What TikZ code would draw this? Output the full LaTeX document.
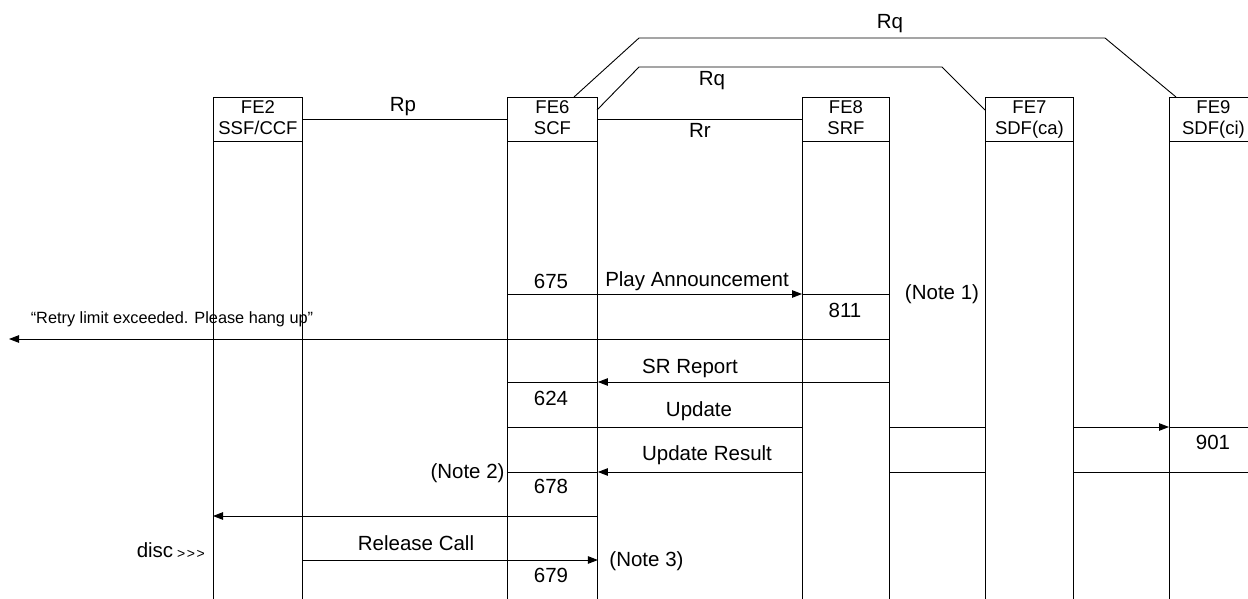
\documentclass[tikz,border=0pt]{standalone}
\usepackage{fontspec}
\setmainfont{Liberation Sans}
\usetikzlibrary{arrows.meta}
\newcommand\lblfont{\fontsize{20.5}{24}\selectfont}
\newcommand\hdfont{\fontsize{18.5}{21}\selectfont}
\newcommand\smallerfont{\fontsize{16.3}{19}\selectfont}
\begin{document}
\begin{tikzpicture}[x=1pt,y=-1pt,line width=0.9pt,
  every node/.style={inner sep=0pt},
  lbl/.style={font=\lblfont,anchor=base},
  hd/.style={font=\hdfont,anchor=base},
  febox/.style={draw,minimum height=44pt,anchor=north west},
  msg/.style={-{Triangle[length=10pt,width=7.5pt]}}]
\useasboundingbox (0,0) rectangle (1248,599);
\clip (0,0) rectangle (1248,599);
% header boxes
\node[febox,minimum width=89pt] (fe2) at (213,97) {};
\node[febox,minimum width=90pt] (fe6) at (507,97) {};
\node[febox,minimum width=87pt] (fe8) at (802,97) {};
\node[febox,minimum width=88pt] (fe7) at (985,97) {};
\node[febox,minimum width=88pt] (fe9) at (1169,97) {};
\coordinate (hb1) at (0,113.5);
\coordinate (hb2) at (0,135);
\node[hd] (fe2a) at (fe2.north |- hb1) {FE2};
\node[hd] (fe2b) at (fe2.north |- hb2) {SSF/CCF};
\node[hd] (fe6a) at (fe6.north |- hb1) {FE6};
\node[hd] (fe6b) at (fe6.north |- hb2) {SCF};
\node[hd] (fe8a) at (fe8.north |- hb1) {FE8};
\node[hd] (fe8b) at (fe8.north |- hb2) {SRF};
\node[hd] (fe7a) at (fe7.north |- hb1) {FE7};
\node[hd] (fe7b) at (fe7.north |- hb2) {SDF(ca)};
\node[hd] (fe9a) at (fe9.north |- hb1) {FE9};
\node[hd] (fe9b) at (fe9.north |- hb2) {SDF(ci)};
% lifelines
\foreach \n in {fe2,fe6,fe8,fe7,fe9}{
  \draw (\n.south west) -- ++(0,470);
  \draw (\n.south east) -- ++(0,470);
}
% interfaces
\draw (fe2.east) -- (fe6.west);
\node[lbl] (rp) at (403,112) {Rp};
\draw (fe6.east) -- (fe8.west);
\node[lbl] (rr) at (700,138) {Rr};
\coordinate (rqi1) at (597,110);
\coordinate (rqi2) at (639,67);
\coordinate (rqi3) at (942,67);
\coordinate (rqi4) at (985,110);
\draw (rqi1) -- (rqi2) -- (rqi3) -- (rqi4);
\node[lbl] (rqin) at (712,86) {Rq};
\coordinate (rqo1) at (574,97);
\coordinate (rqo2) at (639,38);
\coordinate (rqo3) at (1105,38);
\coordinate (rqo4) at (1176,97);
\draw (rqo1) -- (rqo2) -- (rqo3) -- (rqo4);
\node[lbl] (rqout) at (890,29) {Rq};
% message rows
\coordinate (t1) at (0,294);
\coordinate (t2) at (0,339);
\coordinate (t3) at (0,382);
\coordinate (t4) at (0,427);
\coordinate (t5) at (0,472);
\coordinate (t6) at (0,516);
\coordinate (t7) at (0,560);
\coordinate (farleft) at (9,339);
\coordinate (edge4) at (1260,427);
\coordinate (edge5) at (1260,472);
% 1 Play Announcement
\draw[msg] (fe6.west|-t1) -- (fe8.west|-t1);
\draw (fe8.west|-t1) -- (fe8.east|-t1);
\node[lbl] (n675) at (551,288) {675};
\node[lbl] (pa) at (697,286) {Play Announcement};
\node[lbl] (n811) at (845,317) {811};
\node[lbl] (note1) at (942,299) {(Note 1)};
% 2 announcement to user
\draw[msg] (fe8.east|-t2) -- (farleft);
\node[font=\smallerfont,anchor=base] (retry) at (172,323) {“Retry limit exceeded. Please hang up”};
% 3 SR Report
\draw[msg] (fe8.east|-t3) -- (fe6.east|-t3);
\draw (fe6.east|-t3) -- (fe6.west|-t3);
\node[lbl] (srr) at (690,373) {SR Report};
\node[lbl] (n624) at (551,405) {624};
% 4 Update
\draw (fe6.west|-t4) -- (fe8.west|-t4);
\draw (fe8.east|-t4) -- (fe7.west|-t4);
\draw[msg] (fe7.east|-t4) -- (fe9.west|-t4);
\draw (fe9.west|-t4) -- (edge4);
\node[lbl] (upd) at (699,416) {Update};
\node[lbl] (n901) at (1213,449) {901};
% 5 Update Result
\draw (edge5) -- (fe7.east|-t5);
\draw (fe7.west|-t5) -- (fe8.east|-t5);
\draw[msg] (fe8.west|-t5) -- (fe6.east|-t5);
\draw (fe6.east|-t5) -- (fe6.west|-t5);
\node[lbl] (updr) at (707,460) {Update Result};
\node[lbl,anchor=base east] (note2) at (505,478) {(Note 2)};
\node[lbl] (n678) at (551,493) {678};
% 6
\draw[msg] (fe6.east|-t6) -- (fe2.west|-t6);
% 7 Release Call
\draw[msg] (fe2.east|-t7) -- (fe6.east|-t7);
\node[lbl] (rc) at (416,550) {Release Call};
\node[lbl,anchor=base west] (note3) at (609,566) {(Note 3)};
\node[lbl] (n679) at (551,582) {679};
\node[lbl] (disc) at (155,557) {disc};
\node[font=\fontsize{14}{14}\selectfont,anchor=base] (gt) at (191,558) {>\kern1.5pt>\kern1.5pt>};
\end{tikzpicture}
\end{document}
